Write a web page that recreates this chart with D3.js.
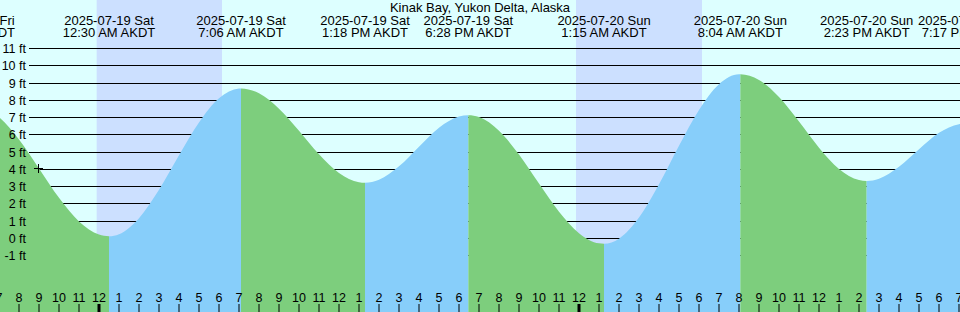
<!DOCTYPE html>
<html>
<head>
<meta charset="utf-8">
<script src="https://cdn.jsdelivr.net/npm/d3@7"></script>
<style>
html,body{margin:0;padding:0;background:#ddffff;}
svg{display:block;font-family:"Liberation Sans",Arial,sans-serif;}
</style>
</head>
<body>
<svg id="chart" width="960" height="312"></svg>
<script>
// ---- data (AKDT wall-clock times) ----
const stationName = "Kinak Bay, Yukon Delta, Alaska";
const tideTimes   = ["2025-07-18T17:39","2025-07-19T00:30","2025-07-19T07:06","2025-07-19T13:18","2025-07-19T18:28","2025-07-20T01:15","2025-07-20T08:04","2025-07-20T14:23","2025-07-20T19:17"];
const tideHeights = [7.7, 0.1, 8.66, 3.2, 7.11, -0.33, 9.48, 3.3, 6.62];
const tideKinds   = ["H","L","H","L","H","L","H","L","H"];
const hourlyStart = "2025-07-18T19:00";
const hourlyHeights = [6.99,5.70,4.03,2.33,0.96,0.20,0.22,1.15,2.79,4.79,6.69,8.09,8.65,8.38,7.49,6.21,4.85,3.77,3.23,3.37,4.15,5.29,6.38,7.03,7.00,6.21,4.83,3.15,1.52,0.28,-0.31,-0.04,1.18,3.11,5.34,7.41,8.90,9.48,9.15,8.16,6.74,5.23,4.00,3.36,3.43,4.12,5.14,6.09,6.59];
const nightStarts = ["2025-07-18T23:53","2025-07-19T23:51"];
const nightEnds   = ["2025-07-19T06:09","2025-07-20T06:09"];
const nowTime = "2025-07-18T20:56";
const nowHeight = 4.05;
const yTicks = [-1,0,1,2,3,4,5,6,7,8,9,10,11];
const viewStart = "2025-07-18T19:03";
const viewEnd   = "2025-07-20T19:03";

// ---- setup ----
const W = 960, H = 312;
const parse = d3.utcParse("%Y-%m-%dT%H:%M");
const svg = d3.select("#chart");
const x = d3.scaleUtc().domain([parse(viewStart), parse(viewEnd)]).range([0, W]);
const y = d3.scaleLinear().domain([0, 11]).range([238, 48]);

const colDay = "#ddffff", colNight = "#cce0ff", colRise = "#87cefa", colFall = "#7dce7d";

svg.append("rect").attr("x",0).attr("y",0).attr("width",W).attr("height",H).attr("fill",colDay);

// night shading
nightStarts.forEach((s,i)=>{
  const x0 = x(parse(s)), x1 = x(parse(nightEnds[i]));
  svg.append("rect").attr("x",x0).attr("y",0).attr("width",x1-x0).attr("height",H).attr("fill",colNight);
});

// horizontal grid lines
svg.append("g").selectAll("line").data(yTicks).join("line")
  .attr("x1",29).attr("x2",W)
  .attr("y1",d=>Math.round(y(d))+0.5).attr("y2",d=>Math.round(y(d))+0.5)
  .attr("stroke","#000").attr("stroke-width",1);

// samples
const t0 = parse(hourlyStart);
let samples = hourlyHeights.map((h,i)=>({t:d3.utcHour.offset(t0,i), h}));
tideTimes.forEach((s,i)=>samples.push({t:parse(s), h:tideHeights[i]}));
samples.sort((a,b)=>a.t-b.t);

const area = d3.area().curve(d3.curveMonotoneX)
  .x(d=>x(d.t)).y0(H).y1(d=>y(d.h));
const dPath = area(samples);

const defs = svg.append("defs");
for (let i=0;i<tideTimes.length-1;i++){
  const xa = x(parse(tideTimes[i])), xb = x(parse(tideTimes[i+1]));
  const id = "seg"+i;
  defs.append("clipPath").attr("id",id).append("rect")
    .attr("x",xa).attr("y",0).attr("width",xb-xa).attr("height",H);
  svg.append("path").attr("d",dPath).attr("clip-path",`url(#${id})`)
    .attr("fill", tideKinds[i]==="H" ? colFall : colRise);
}

// y labels
svg.append("g").selectAll("text").data(yTicks).join("text")
  .attr("x",26).attr("y",d=>Math.round(y(d))+5)
  .attr("text-anchor","end").attr("font-size",12.5)
  .text(d=>d+" ft");

// hour ticks
const hours = d3.utcHour.range(d3.utcHour.floor(parse(viewStart)), d3.utcHour.offset(parse(viewEnd),1));
const fmtHour = d3.utcFormat("%-I");
const gh = svg.append("g");
gh.selectAll("rect").data(hours).join("rect")
  .attr("x",d=>{const w = d.getUTCHours()===0?3:1; return Math.round(x(d))-(w===3?1.5:0.5);})
  .attr("width",d=>d.getUTCHours()===0?3:1)
  .attr("y",304).attr("height",8).attr("fill","#000");
gh.selectAll("text").data(hours).join("text")
  .attr("x",d=>x(d)).attr("y",302).attr("text-anchor","middle").attr("font-size",12.5)
  .text(d=>fmtHour(d));

// header labels
const fmtDate = d3.utcFormat("%Y-%m-%d %a");
const fmtTime = d3.utcFormat("%-I:%M %p AKDT");
const gl = svg.append("g").attr("font-size",13).attr("text-anchor","middle");
tideTimes.forEach(s=>{
  const t = parse(s);
  gl.append("text").attr("x",x(t)).attr("y",25).text(fmtDate(t));
  gl.append("text").attr("x",x(t)).attr("y",37).text(fmtTime(t));
});
svg.append("text").attr("x",W/2).attr("y",12).attr("text-anchor","middle").attr("font-size",13).text(stationName);

// current time marker
const nx = x(parse(nowTime)), ny = y(nowHeight);
svg.append("path").attr("d",`M${Math.round(nx)-4},${Math.round(ny)+0.5}h9M${Math.round(nx)+0.5},${Math.round(ny)-4}v9`)
  .attr("stroke","#000").attr("stroke-width",1).attr("fill","none");
</script>
</body>
</html>
